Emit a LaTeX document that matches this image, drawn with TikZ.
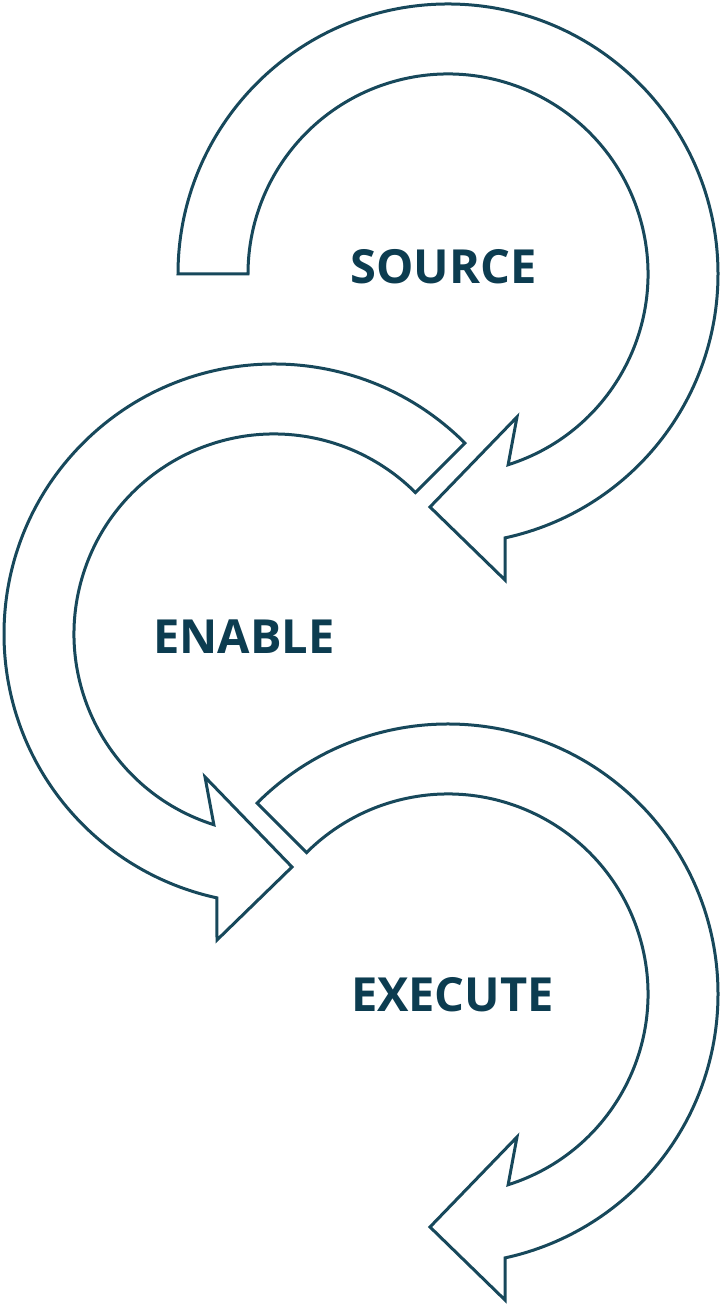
\documentclass[tikz,border=0pt]{standalone}
\usepackage{fontspec}
\setmainfont{Open Sans}
\newfontfamily\lblfont{Open Sans}[UprightFont=* Bold]
\definecolor{strokeC}{HTML}{17485B}
\definecolor{textC}{HTML}{0C3C50}
\begin{document}
\begin{tikzpicture}[x=1pt,y=1pt,
  arrowshape/.style={draw=strokeC,line width=3pt,line join=miter,fill=white},
  lbl/.style={text=textC,font=\lblfont\fontsize{47}{52}\selectfont,anchor=base,inner sep=0pt}]
\useasboundingbox (0,0) rectangle (720,1305);
% arrow 1 (SOURCE)
\begin{scope}[shift={(448,1031)}]
\draw[arrowshape] (180:270) arc[start angle=180,end angle=-77.8,radius=270]
  -- (57,-306) -- (-18,-233) -- (69,-143) -- (-72.5:200)
  arc[start angle=-72.5,end angle=180,radius=200] -- cycle;
\end{scope}
% arrow 2 (ENABLE)
\begin{scope}[shift={(274,671)}]
\draw[arrowshape] (45:270) arc[start angle=45,end angle=257.8,radius=270]
  -- (-57,-306) -- (18,-233) -- (-69,-143) -- (252.5:200)
  arc[start angle=252.5,end angle=45,radius=200] -- cycle;
\end{scope}
% arrow 3 (EXECUTE)
\begin{scope}[shift={(448,311)}]
\draw[arrowshape] (135:270) arc[start angle=135,end angle=-77.8,radius=270]
  -- (57,-306) -- (-18,-233) -- (69,-143) -- (-72.5:200)
  arc[start angle=-72.5,end angle=135,radius=200] -- cycle;
\end{scope}
\node[lbl] (source) at (443.5,1305-284) {SOURCE};
\node[lbl] (enable) at (244,1305-654) {ENABLE};
\node[lbl] (execute) at (452.5,1305-1012) {EXECUTE};
\end{tikzpicture}
\end{document}
